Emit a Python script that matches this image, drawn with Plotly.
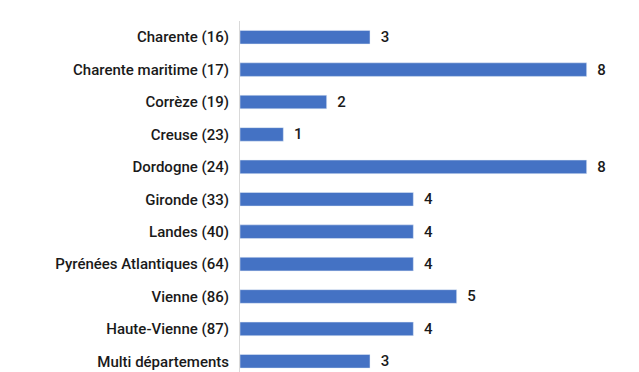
import plotly.graph_objects as go

categories = ["Charente (16)", "Charente maritime (17)", "Corrèze (19)", "Creuse (23)",
              "Dordogne (24)", "Gironde (33)", "Landes (40)", "Pyrénées Atlantiques (64)",
              "Vienne (86)", "Haute-Vienne (87)", "Multi départements"]
values = [3, 8, 2, 1, 8, 4, 4, 4, 5, 4, 3]

fig = go.Figure(go.Bar(
    x=values, y=categories, orientation="h",
    marker=dict(color="#4472C4"),
    width=0.42,
    texttemplate="\u2002%{x}", textposition="outside", constraintext="none",
    textfont=dict(family="Roboto", size=15, color="#1a1a1a", weight=500),
    cliponaxis=False, hoverinfo="skip",
))
fig.update_layout(
    width=631, height=364,
    margin=dict(l=232, r=9, t=13, b=0, autoexpand=False),
    paper_bgcolor="white", plot_bgcolor="white",
    showlegend=False,
    font=dict(family="Roboto", size=14, color="#1a1a1a"),
)
fig.update_xaxes(range=[0, 9], visible=False, showgrid=False)
fig.update_yaxes(range=[10.33, -0.5], showline=True, linecolor="#d9d9d9", linewidth=1,
                 showgrid=False, ticks="", ticklabelstandoff=7,
                 tickfont=dict(family="Roboto", size=15, color="#1a1a1a", weight=500))
fig.write_html("out.html")
